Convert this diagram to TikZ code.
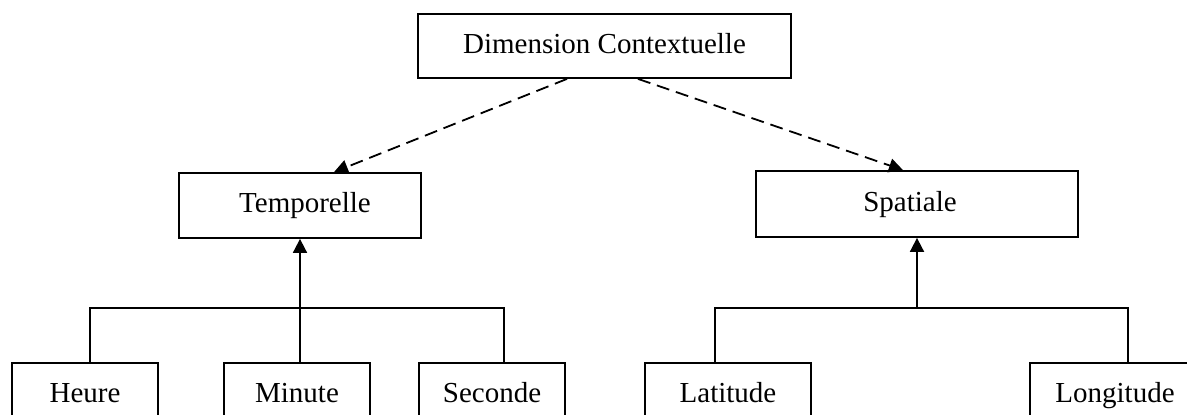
\documentclass[tikz,border=0pt]{standalone}
\usepackage{fontspec}
\setmainfont{Liberation Serif}
\usetikzlibrary{arrows.meta}
\begin{document}
\begin{tikzpicture}[x=1pt,y=-1pt,
  box/.style={draw, line width=1.8pt, inner sep=0pt, text height=20pt, text depth=6pt, font=\fontsize{29}{34}\selectfont},
  link/.style={line width=1.8pt},
  dashlink/.style={line width=1.8pt, dash pattern=on 13pt off 7pt, -{Triangle[width=14pt,length=14pt]}},
  uparrow/.style={line width=1.8pt, -{Triangle[width=14pt,length=14pt]}}]
\useasboundingbox (0,0) rectangle (1187,415);
\clip (0,0) rectangle (1187,415);
\fill[white] (0,0) rectangle (1187,415);
\node[box, minimum width=373pt, minimum height=64pt] (dim) at (604.5,46) {Dimension Contextuelle};
\node[box, minimum width=242pt, minimum height=65pt] (temp) at (300,205.5) {\hspace*{10pt}Temporelle};
\node[box, minimum width=322pt, minimum height=66pt] (spat) at (917,204) {Spatiale\hspace*{14pt}};
\node[box, minimum width=146pt, minimum height=65pt] (heure) at (85,395.5) {Heure};
\node[box, minimum width=146pt, minimum height=65pt] (minute) at (297,395.5) {Minute};
\node[box, minimum width=146pt, minimum height=65pt] (seconde) at (492,395.5) {Seconde};
\node[box, minimum width=166pt, minimum height=65pt] (lat) at (728,395.5) {Latitude};
\node[box, minimum width=170pt, minimum height=65pt] (long) at (1115,395.5) {Longitude};
\draw[dashlink] ([xshift=-37.5pt]dim.south) -- ([xshift=34pt]temp.north);
\draw[dashlink] ([xshift=33.5pt]dim.south) -- ([xshift=-14pt]spat.north);
\coordinate (tbar) at (300,308);
\coordinate (sbar) at (917,308);
\draw[link] ([xshift=5pt]heure.north) |- (tbar) -| ([xshift=12pt]seconde.north);
\draw[uparrow] ([xshift=3pt]minute.north) -- (temp.south);
\draw[link] ([xshift=-13pt]lat.north) |- (sbar) -| ([xshift=13pt]long.north);
\draw[uparrow] (sbar) -- (spat.south);
\end{tikzpicture}
\end{document}
